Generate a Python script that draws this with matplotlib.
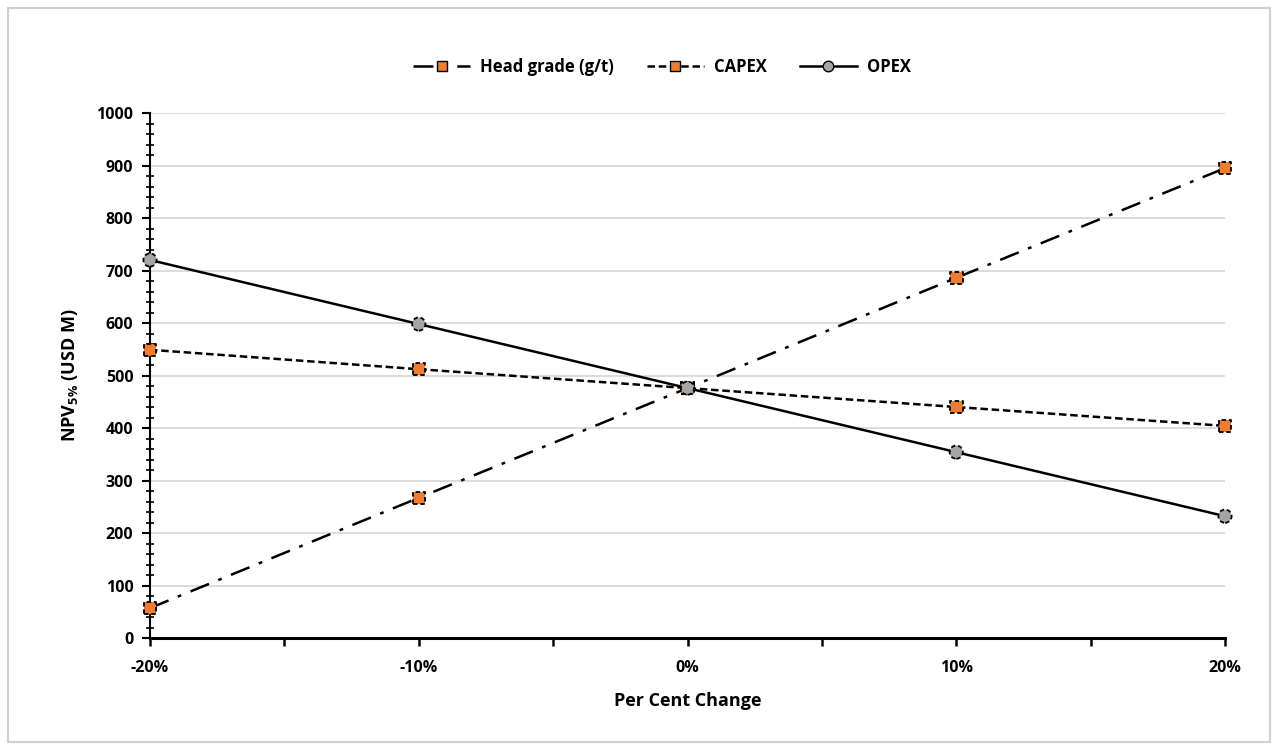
import numpy as np
import matplotlib
matplotlib.use("Agg")
import matplotlib.pyplot as plt
from matplotlib.lines import Line2D
from matplotlib.patches import Rectangle
from matplotlib.ticker import MultipleLocator, FixedLocator

plt.rcParams['font.family'] = ['Open Sans', 'DejaVu Sans']
plt.rcParams['font.weight'] = 'bold'
plt.rcParams['mathtext.fontset'] = 'custom'
plt.rcParams['mathtext.rm'] = 'Open Sans:bold'
plt.rcParams['mathtext.bf'] = 'Open Sans:bold'
plt.rcParams['mathtext.default'] = 'bf'

# data
change = [-0.20, -0.10, 0.0, 0.10, 0.20]
tick_pos = [-0.20, -0.15, -0.10, -0.05, 0.0, 0.05, 0.10, 0.15, 0.20]
tick_labels = ['-20%', '', '-10%', '', '0%', '', '10%', '', '20%']
head_grade = [57, 267, 476, 686, 895]
capex = [549, 512, 476, 440, 404]
opex = [720, 598, 476, 354, 232]

orange = '#ED7D31'
grey = '#A5A5A5'

fig = plt.figure(figsize=(12.88, 7.52), dpi=100)
ax = fig.add_axes([150/1288, 1-638/752, (1225-150)/1288, (638-113)/752])

# outer chart border
fig.patches.append(Rectangle((8/1288, 1-742/752), (1270-8)/1288, (742-8)/752,
                             transform=fig.transFigure, fill=False,
                             edgecolor='#d0d0d0', linewidth=1.5))

series = [
    ('Head grade (g/t)', head_grade, (0, (8, 4, 1.5, 4)), 's', orange, 9),
    ('CAPEX', capex, (0, (3, 1.5)), 's', orange, 9),
    ('OPEX', opex, '-', 'o', grey, 9.5),
]

handles = []
for name, vals, ls, mk, col, ms in series:
    ax.plot(change, vals, color='black', linestyle=ls, linewidth=1.8, zorder=3,
            clip_on=False)
    ax.scatter(change, vals, marker=mk, s=ms**2, facecolor=col, edgecolors='black',
               linewidths=1.3, linestyle=(0, (2.5, 1.5)), zorder=4, clip_on=False)
    handles.append(Line2D([], [], color='black', linestyle=ls, linewidth=1.8,
                          marker=mk, markersize=ms*0.8, markerfacecolor=col,
                          markeredgecolor='black', markeredgewidth=1.0))

ax.set_xlim(-0.2, 0.2)
ax.set_ylim(0, 1000)
ax.xaxis.set_major_locator(FixedLocator(tick_pos))
ax.set_xticklabels(tick_labels)
ax.yaxis.set_major_locator(MultipleLocator(100))
ax.yaxis.set_minor_locator(MultipleLocator(20))

ax.grid(axis='y', color='#d9d9d9', linewidth=1.3, zorder=0)
ax.set_axisbelow(True)
for s in ['top', 'right']:
    ax.spines[s].set_visible(False)
ax.spines['bottom'].set_linewidth(2.2)
ax.spines['left'].set_linewidth(1.5)
ax.tick_params(axis='x', direction='out', length=6, width=1.8, labelsize=11.5, pad=10)
ax.tick_params(axis='y', which='major', direction='out', length=6, width=1.5,
               labelsize=11.5, pad=6)
ax.tick_params(axis='y', which='minor', direction='inout', length=6, width=1.2)

ax.set_xlabel('Per Cent Change', fontsize=13, fontweight='bold', labelpad=11)
ax.set_ylabel(r'NPV$_{5\%}$ (USD M)', fontsize=13, fontweight='bold', labelpad=12)

fig.legend(handles, [s[0] for s in series], loc='center', bbox_to_anchor=(662/1288, 1-67/752),
           ncol=3, frameon=False, fontsize=12, handlelength=3.4, columnspacing=2.0,
           handletextpad=0.6)

fig.savefig('out.png', dpi=100, facecolor='white')
